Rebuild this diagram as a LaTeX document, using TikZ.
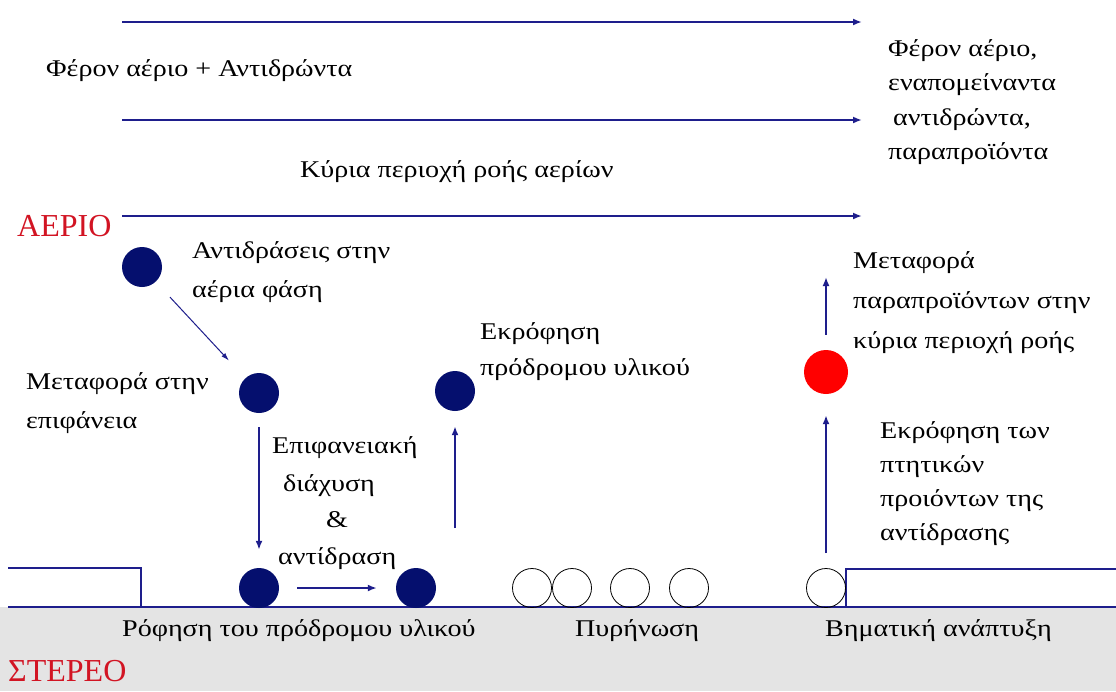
\documentclass[tikz,border=0pt]{standalone}
\usepackage{fontspec}
\setmainfont[FakeStretch=1.17]{Liberation Serif}
\newfontfamily\phasefont{Liberation Serif}
\usetikzlibrary{arrows.meta}
\definecolor{navy}{RGB}{30,30,140}
\definecolor{dotblue}{RGB}{5,15,110}
\definecolor{labred}{RGB}{210,20,35}
\definecolor{solidgray}{RGB}{228,228,228}
\begin{document}
\begin{tikzpicture}[x=1pt,y=-1pt,
  flow/.style={draw=navy, line width=1.8pt, -{Latex[length=9pt,width=7pt]}},
  thinflow/.style={draw=navy, line width=1pt, -{Latex[length=8pt,width=5pt]}},
  dot/.style={circle, fill=dotblue, minimum size=40pt, inner sep=0pt},
  reddot/.style={circle, fill=red, minimum size=44pt, inner sep=0pt},
  nucleus/.style={circle, draw=black, line width=0.8pt, minimum size=39pt, inner sep=0pt},
  surf/.style={draw=navy, line width=1.2pt},
  lbl/.style={font=\fontsize{24}{28}\selectfont, inner sep=0pt, anchor=base west, align=left},
  phase/.style={text=labred, font=\phasefont\fontsize{32}{36}\selectfont, inner sep=0pt, anchor=base west},
]
\useasboundingbox (0,0) rectangle (1116,691);
\fill[white] (0,0) rectangle (1116,691);
% solid
\fill[solidgray] (0,607) rectangle (1116,691);
\draw[surf] (8,607) -- (1116,607);
\draw[surf] (8,568) -- (141,568) -- (141,607);
\draw[surf] (846,607) -- (846,569) -- (1116,569);

% main flow arrows
\coordinate (a1s) at (122,22);  \coordinate (a1e) at (862,22);
\coordinate (a2s) at (122,120); \coordinate (a2e) at (862,120);
\coordinate (a3s) at (122,216); \coordinate (a3e) at (862,216);
\draw[flow] (a1s) -- (a1e);
\draw[flow] (a2s) -- (a2e);
\draw[flow] (a3s) -- (a3e);

% particles
\node[dot] (d1) at (142,267) {};
\node[dot] (d2) at (259,393) {};
\node[dot] (d3) at (259,588) {};
\node[dot] (d4) at (416,588) {};
\node[dot] (d5) at (455,391) {};
\node[reddot] (r) at (826,372) {};
\node[nucleus] (n1) at (532,588) {};
\node[nucleus] (n2) at (572,588) {};
\node[nucleus] (n3) at (630,588) {};
\node[nucleus] (n4) at (689,588) {};
\node[nucleus] (n5) at (826,588) {};

% process arrows
\draw[thinflow, shorten <=21pt, shorten >=24pt] (d1) -- (d2);
\draw[flow, shorten <=14pt, shorten >=18pt] (d2) -- (d3);
\draw[flow, shorten <=18pt, shorten >=19pt] (d3) -- (d4);
\coordinate (u1) at (455,528);
\draw[flow, shorten >=15pt] (u1) -- (d5);
\coordinate (u2) at (826,553);
\draw[flow, shorten >=21pt] (u2) -- (r);
\coordinate (u3) at (826,277);
\draw[flow, shorten <=15pt] (r) -- (u3);

% labels (multi-line nodes are placed by the baseline of their last line)
\node[lbl] (t1) at (46,76) {Φέρον αέριο + Αντιδρώντα};
\node[lbl] (t2) at (300,177) {Κύρια περιοχή ροής αερίων};
\node[lbl, font=\fontsize{24}{34.5}\selectfont] (t3) at (888,159.5) {Φέρον αέριο,\\εναπομείναντα\\\hspace{5pt}αντιδρώντα,\\παραπροϊόντα};
\node[phase] (gas) at (17,236) {ΑΕΡΙΟ};
\node[phase] (solid) at (8,681) {ΣΤΕΡΕΟ};
\node[lbl, font=\fontsize{24}{39}\selectfont] (l1) at (192,297) {Αντιδράσεις στην\\αέρια φάση};
\node[lbl, font=\fontsize{24}{39}\selectfont] (l2) at (26,428) {Μεταφορά στην\\επιφάνεια};
\node[lbl] (s1) at (272,453) {Επιφανειακή};
\node[lbl] (s2) at (283,491) {διάχυση};
\node[lbl] (s3) at (326,527) {\&};
\node[lbl] (s4) at (278,564) {αντίδραση};
\node[lbl, font=\fontsize{24}{36}\selectfont] (l3) at (480,375) {Εκρόφηση\\πρόδρομου υλικού};
\node[lbl, font=\fontsize{24}{40}\selectfont] (l4) at (853,348) {Μεταφορά\\παραπροϊόντων στην\\κύρια περιοχή ροής};
\node[lbl, font=\fontsize{24}{34}\selectfont] (l5) at (880,540) {Εκρόφηση των\\πτητικών\\προιόντων της\\αντίδρασης};
\node[lbl] (b1) at (122,636) {Ρόφηση του πρόδρομου υλικού};
\node[lbl] (b2) at (575,636) {Πυρήνωση};
\node[lbl] (b3) at (825,636) {Βηματική ανάπτυξη};
\end{tikzpicture}
\end{document}
